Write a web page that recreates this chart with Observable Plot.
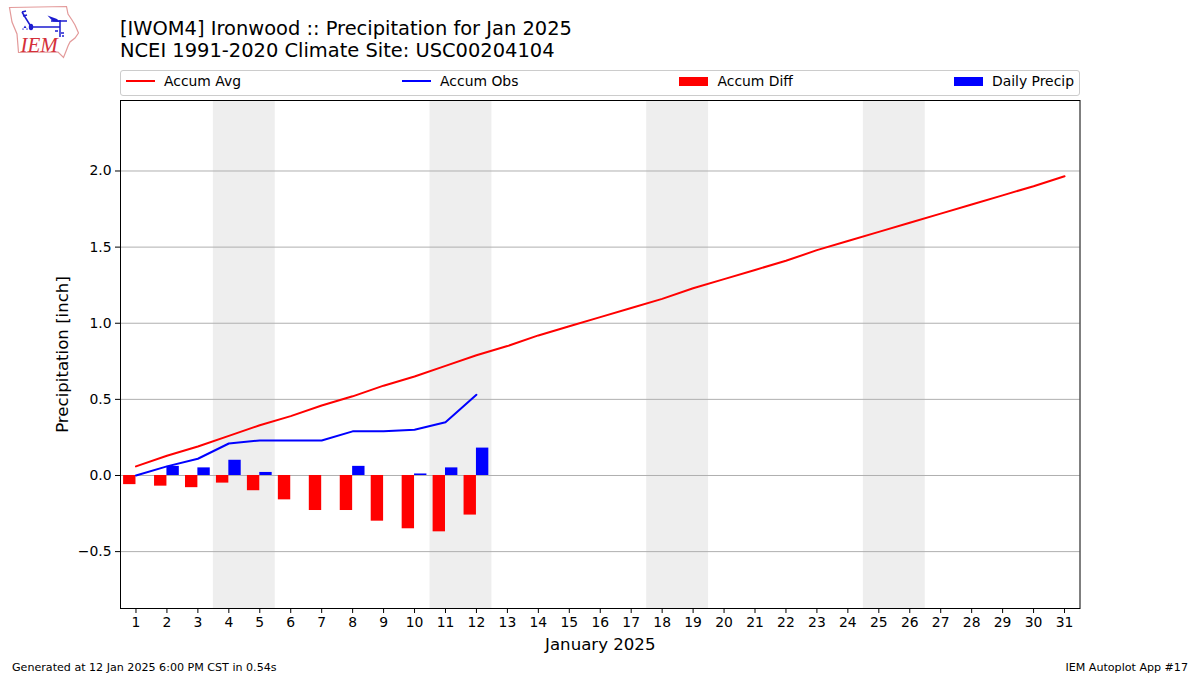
<!DOCTYPE html>
<html>
<head>
<meta charset="utf-8">
<script src="https://cdn.jsdelivr.net/npm/d3@7"></script>
<script src="https://cdn.jsdelivr.net/npm/@observablehq/plot@0.6"></script>
<style>
html,body{margin:0;padding:0;background:#fff;}
body{width:1200px;height:675px;overflow:hidden;font-family:"DejaVu Sans",sans-serif;color:#000;position:relative;}
#header{position:relative;height:95px;}
#logo{position:absolute;left:0;top:0;}
#title{position:absolute;left:120px;top:18px;font-size:19.45px;line-height:21.6px;white-space:nowrap;}
#legend{position:absolute;left:120px;top:70px;width:960px;height:25.5px;box-sizing:border-box;border:1px solid #ccc;border-radius:3px;display:flex;justify-content:space-between;align-items:center;padding:0 5px 3.5px 5px;font-size:13.9px;}
.item{display:flex;align-items:center;gap:9px;white-space:nowrap;}
.ln{display:inline-block;width:29px;height:2px;}
.bx{display:inline-block;width:29px;height:9px;}
#chart{position:absolute;left:0;top:95px;line-height:0;}
#foot{position:absolute;left:12px;right:12px;top:660.5px;display:flex;justify-content:space-between;font-size:11.1px;line-height:13px;}
</style>
</head>
<body>
<div id="header">
<svg id="logo" width="90" height="62" viewBox="0 0 90 62">
<path d="M9.5 7.5 L66.5 6.5 L68 14 L72 20 L75 25 L78.5 33 L75 38 L70 42 L68 46 L66.5 50 L63.5 57.5 L58 52 L18.5 52.5 L17 34 L12 22 Z" fill="none" stroke="#e39a9a" stroke-width="1.2"/>
<path d="M31 27 H60 M51 21 H67 M60 20 V37 M22 12 L25 17 L30 25 M22 12 L26 11 M23 16 L27 15" fill="none" stroke="#1c1cd0" stroke-width="1.5"/>
<path d="M47.5 15.5 L57 19 L60 22 L53 21.5 Z" fill="#1c1cd0"/>
<ellipse cx="31" cy="27" rx="2.2" ry="3.2" fill="#1c1cd0"/>
<path d="M55 31 h3 M61 33 h3 M62 36 h2" fill="none" stroke="#1c1cd0" stroke-width="1.3"/>
<path d="M25 25.5 l1.5 2.6 h-3 Z M23 28 l1 1.5 h-2 Z M27 28 l1 1.5 h-2 Z" fill="#1c1cd0"/>
<text x="20.5" y="52" font-family="Liberation Serif" font-style="italic" font-size="21" fill="#d4303a">IEM</text>
</svg>
<div id="title">[IWOM4] Ironwood :: Precipitation for Jan 2025<br>NCEI 1991-2020 Climate Site: USC00204104</div>
<div id="legend">
<span class="item"><span class="ln" style="background:#ff0000"></span>Accum Avg</span>
<span class="item"><span class="ln" style="background:#0000ff"></span>Accum Obs</span>
<span class="item"><span class="bx" style="background:#ff0000"></span>Accum Diff</span>
<span class="item"><span class="bx" style="background:#0000ff"></span>Daily Precip</span>
</div>
</div>
<div id="chart"></div>
<div id="foot"><span>Generated at 12 Jan 2025 6:00 PM CST in 0.54s</span><span>IEM Autoplot App #17</span></div>
<script>
const allDays = [1,2,3,4,5,6,7,8,9,10,11,12,13,14,15,16,17,18,19,20,21,22,23,24,25,26,27,28,29,30,31];
const accumAvg = [0.06,0.13,0.19,0.26,0.33,0.39,0.46,0.52,0.59,0.65,0.72,0.79,0.85,0.92,0.98,1.04,1.10,1.16,1.23,1.29,1.35,1.41,1.48,1.54,1.60,1.66,1.72,1.78,1.84,1.90,1.965];
const obsDays = [1,2,3,4,5,6,7,8,9,10,11,12];
const accumObs = [0.00,0.06,0.11,0.21,0.23,0.23,0.23,0.29,0.29,0.30,0.35,0.53];
const accumDiff = [-0.06,-0.07,-0.08,-0.05,-0.10,-0.16,-0.23,-0.23,-0.30,-0.35,-0.37,-0.26];
const dailyPrecip = [0.00,0.06,0.05,0.10,0.02,0.00,0.00,0.06,0.00,0.01,0.05,0.18];
const weekendStart = [3.5,10.5,17.5,24.5];
const weekendEnd = [5.5,12.5,19.5,26.5];
const yTicks = [-0.5,0,0.5,1.0,1.5,2.0];
const yTickLabels = ["\u22120.5","0.0","0.5","1.0","1.5","2.0"];

const avgRows = allDays.map((day,i)=>({day,value:accumAvg[i]}));
const obsRows = obsDays.map((day,i)=>({day,obs:accumObs[i],diff:accumDiff[i],daily:dailyPrecip[i]}));
const weekends = weekendStart.map((s,i)=>({s,e:weekendEnd[i]}));
const barWidth = 0.4;

const plot = Plot.plot({
  width:1200,height:560,
  marginTop:5,marginBottom:47,marginLeft:120,marginRight:120.5,
  style:{fontFamily:"DejaVu Sans",fontSize:"13.9px",color:"#000",background:"transparent"},
  x:{domain:[0.5,31.5],label:null},
  y:{domain:[-0.8736,2.463],label:null},
  marks:[
    Plot.rect(weekends,{x1:"s",x2:"e",fill:"#eeeeee",inset:0}),
    Plot.ruleY(yTicks,{stroke:"#b0b0b0",strokeWidth:1}),
    Plot.rect(obsRows,{x1:d=>d.day-barWidth,x2:"day",y1:()=>0,y2:"diff",fill:"#ff0000",inset:0}),
    Plot.rect(obsRows.filter(d=>d.daily>0),{x1:"day",x2:d=>d.day+barWidth,y1:()=>0,y2:"daily",fill:"#0000ff",inset:0}),
    Plot.line(avgRows,{x:"day",y:"value",stroke:"#ff0000",strokeWidth:2,curve:"linear"}),
    Plot.line(obsRows,{x:"day",y:"obs",stroke:"#0000ff",strokeWidth:2,curve:"linear"}),
    Plot.frame({stroke:"#000",strokeWidth:1}),
    Plot.axisX(allDays,{anchor:"bottom",tickSize:5,tickPadding:4,tickFormat:d=>String(d),label:null,stroke:"#000",fill:"#000"}),
    Plot.axisY(yTicks,{anchor:"left",tickSize:5,tickPadding:4,tickFormat:d=>yTickLabels[yTicks.indexOf(d)],label:null,stroke:"#000",fill:"#000"}),
    Plot.text(["January 2025"],{frameAnchor:"bottom",dy:41,fontSize:16.6,fill:"#000",text:d=>d}),
    Plot.text(["Precipitation [inch]"],{frameAnchor:"left",dx:-58,rotate:-90,textAnchor:"middle",fontSize:16.6,fill:"#000",text:d=>d})
  ]
});
document.getElementById("chart").appendChild(plot);
</script>
</body>
</html>
